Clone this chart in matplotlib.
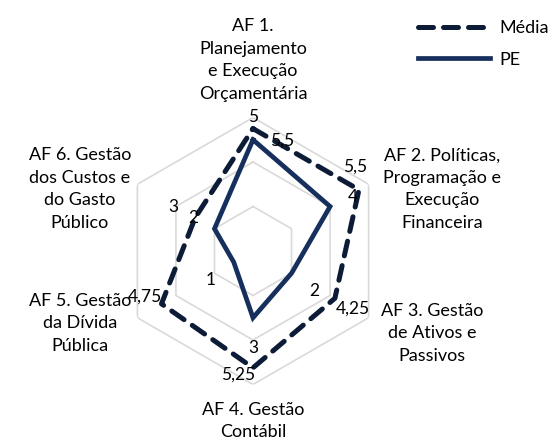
import numpy as np
import matplotlib
matplotlib.use("Agg")
import matplotlib.pyplot as plt

plt.rcParams['font.family'] = ['Lato', 'DejaVu Sans']

# dados
categorias = ["AF 1.\nPlanejamento\ne Execução\nOrçamentária",
              "AF 2. Políticas,\nProgramação e\nExecução\nFinanceira",
              "AF 3. Gestão\nde Ativos e\nPassivos",
              "AF 4. Gestão\nContábil",
              "AF 5. Gestão\nda Dívida\nPública",
              "AF 6. Gestão\ndos Custos e\ndo Gasto\nPúblico"]
media = [5.5, 5.5, 4.25, 5.25, 4.75, 3]
pe = [5, 4, 2, 3, 1, 2]
grade = [2, 4, 6]

cor_media = '#0c1b36'
cor_pe = '#162f5c'

W, H = 554, 440
fig = plt.figure(figsize=(W / 100, H / 100), dpi=100)

# centro do radar em (253, 251) px, raio 6 -> 133.5 px
cx, cy, R = 253, 251, 133.5
ax = fig.add_axes([(cx - R) / W, (H - cy - R) / H, 2 * R / W, 2 * R / H], projection='polar')
ax.set_theta_offset(np.pi / 2)
ax.set_theta_direction(-1)
ax.set_ylim(0, 6)
ax.grid(False)
ax.spines['polar'].set_visible(False)
ax.set_xticks([])
ax.set_yticks([])
ax.patch.set_alpha(0)

n = len(categorias)
ang = np.linspace(0, 2 * np.pi, n, endpoint=False)
ang_f = np.append(ang, ang[0])

# hexagonos da grade
for g in grade:
    ax.plot(ang_f, [g] * (n + 1), color='#d9d9d9', lw=1.2, zorder=1)

linha_media, = ax.plot(ang_f, media + media[:1], color=cor_media, lw=3.6,
                       dash_capstyle='round', zorder=3, label='Média')
linha_media.set_dashes((3.0, 2.0))
linha_pe, = ax.plot(ang_f, pe + pe[:1], color=cor_pe, lw=3.4,
                    solid_joinstyle='miter', zorder=4, label='PE')

def fmt(v):
    return ('%g' % v).replace('.', ',')

# rótulos dos dados (deslocamento em pixels)
desl_media = [(29, -12), (-4, 23), (18, -10), (-15, -7), (-17, 7), (-22, 11)]
desl_pe = [(0, 23), (23, 10), (23, -18), (0, -30), (-23, -18), (-21, 11)]
for a, v, d in zip(ang, media, desl_media):
    ax.annotate(fmt(v), (a, v), xytext=d, textcoords='offset pixels',
                ha='center', va='center', fontsize=12.5, color='black', zorder=5)
for a, v, d in zip(ang, pe, desl_pe):
    ax.annotate(fmt(v), (a, v), xytext=d, textcoords='offset pixels',
                ha='center', va='center', fontsize=12.5, color='black', zorder=5)

# nomes das categorias
pos_cat = [(253, 60), (442, 189), (432, 333), (253, 421), (80, 323), (80, 189)]
for txt, (x, y) in zip(categorias, pos_cat):
    fig.text(x / W, 1 - y / H, txt, ha='center', va='center', fontsize=13,
             linespacing=1.5, color='black')

fig.legend(handles=[linha_media, linha_pe], loc='upper left',
           bbox_to_anchor=(402 / W, 1 - 4 / H), frameon=False, fontsize=13,
           handlelength=4.0, labelspacing=0.85, handletextpad=0.5)

fig.savefig('out.png', dpi=100)
